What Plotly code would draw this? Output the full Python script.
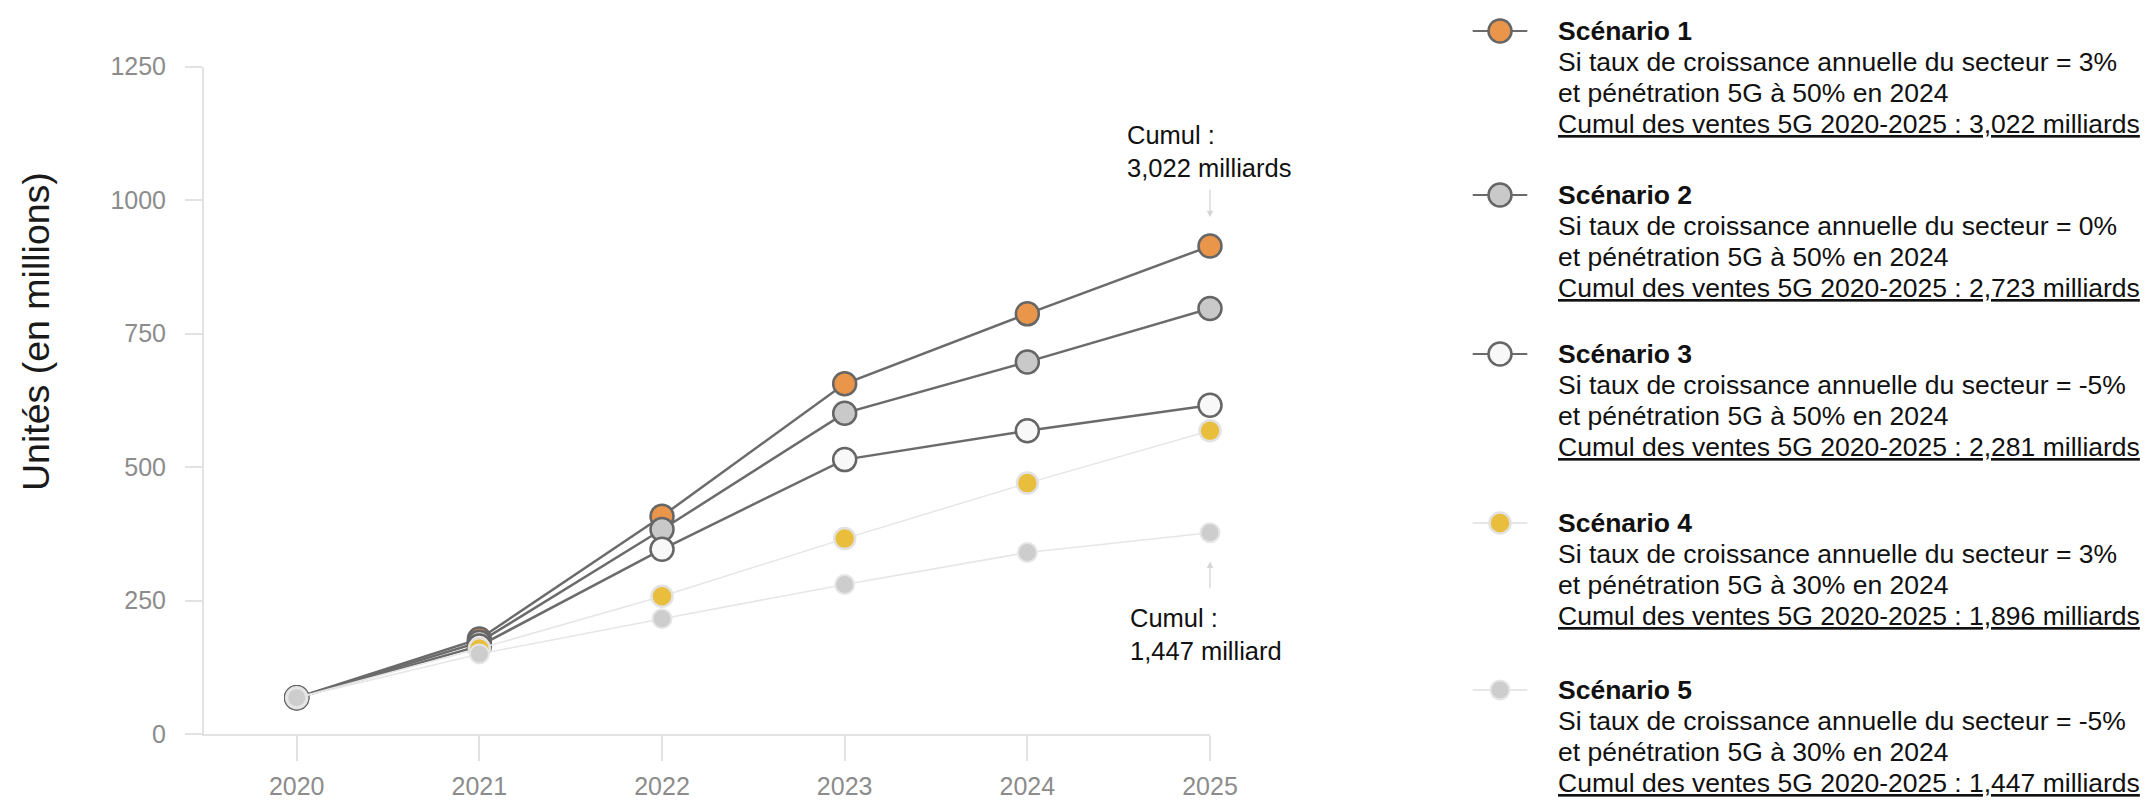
import plotly.graph_objects as go

# ---------------- data ----------------
years = [2020, 2021, 2022, 2023, 2024, 2025]
year_labels = ["2020", "2021", "2022", "2023", "2024", "2025"]
scenario_1 = [68, 178, 408, 656, 787, 914]
scenario_2 = [68, 172, 383, 601, 697, 797]
scenario_3 = [68, 165, 346, 514, 568, 616]
scenario_4 = [68, 160, 258, 366, 470, 568]
scenario_5 = [68, 150, 216, 280, 340, 377]
y_ticks = [0, 250, 500, 750, 1000, 1250]

scenario_names = ["Scénario 1", "Scénario 2", "Scénario 3", "Scénario 4", "Scénario 5"]
growth_rates = ["3%", "0%", "-5%", "3%", "-5%"]
penetrations = ["50%", "50%", "50%", "30%", "30%"]
cumul_totals = ["3,022", "2,723", "2,281", "1,896", "1,447"]

top_note = "Cumul :<br>3,022 milliards"
bottom_note = "Cumul :<br>1,447 milliard"
y_title = "Unités (en millions)"

# ---------------- styles ----------------
series = [scenario_1, scenario_2, scenario_3, scenario_4, scenario_5]
fills = ["#E9964B", "#C9C9C9", "#F8F8F8", "#E9BE3D", "#CDCDCD"]
borders = ["#666666", "#666666", "#666666", "#E2E2E2", "#E6E6E6"]
line_colors = ["#6B6B6B", "#6B6B6B", "#6B6B6B", "#E6E6E6", "#E6E6E6"]
line_widths = [2.5, 2.5, 2.5, 1.5, 1.5]
marker_sizes = [23, 23, 23, 21, 19]
marker_line_widths = [2.5, 2.5, 2.5, 2.5, 2]

FONT = "Arial, 'Liberation Sans', sans-serif"
W, H = 2156, 802

fig = go.Figure()

for i, vals in enumerate(series):
    fig.add_trace(go.Scatter(
        x=years, y=vals, mode="lines+markers", name=scenario_names[i],
        line=dict(color=line_colors[i], width=line_widths[i]),
        marker=dict(size=marker_sizes[i], color=fills[i],
                    line=dict(color=borders[i], width=marker_line_widths[i])),
        cliponaxis=False, showlegend=False, hoverinfo="x+y+name",
    ))

# ---------------- custom legend (pixel-space helper axes) ----------------
legend_marker_x = 1500
legend_text_x = 1556
legend_rows = [31, 195, 354, 523, 690]
line_gap = 31

for i in range(5):
    fig.add_trace(go.Scatter(
        x=[legend_marker_x], y=[legend_rows[i]], xaxis="x2", yaxis="y2",
        mode="markers", showlegend=False, hoverinfo="skip",
        marker=dict(symbol="line-ew", size=39,
                    line=dict(color=line_colors[i], width=2)),
    ))
    fig.add_trace(go.Scatter(
        x=[legend_marker_x], y=[legend_rows[i]], xaxis="x2", yaxis="y2",
        mode="markers", showlegend=False, hoverinfo="skip",
        marker=dict(size=marker_sizes[i], color=fills[i],
                    line=dict(color=borders[i], width=marker_line_widths[i])),
    ))

annotations = []
for i in range(5):
    lines = [
        "<b>" + scenario_names[i] + "</b>",
        "Si taux de croissance annuelle du secteur = " + growth_rates[i],
        "et pénétration 5G à " + penetrations[i] + " en 2024",
        "<u>Cumul des ventes 5G 2020-2025 : " + cumul_totals[i] + " milliards</u>",
    ]
    for k, t in enumerate(lines):
        annotations.append(dict(
            xref="x2", yref="y2", x=legend_text_x, y=legend_rows[i] + k * line_gap,
            text=t, showarrow=False, xanchor="left", yanchor="middle",
            font=dict(family=FONT, size=26.5, color="#111111"),
        ))

# cumulative notes with thin arrows
annotations += [
    dict(xref="paper", yref="paper", x=1125 / W, y=1 - 151 / H, text=top_note,
         showarrow=False, xanchor="left", yanchor="middle", align="left",
         font=dict(family=FONT, size=25.5, color="#111111")),
    dict(xref="paper", yref="paper", x=1128 / W, y=1 - 634 / H, text=bottom_note,
         showarrow=False, xanchor="left", yanchor="middle", align="left",
         font=dict(family=FONT, size=25.5, color="#111111")),
    dict(xref="x", yref="y", x=2025, y=968, axref="x", ayref="y", ax=2025, ay=1023,
         text="", showarrow=True, arrowhead=2, arrowsize=1, arrowwidth=1.3,
         arrowcolor="#D6D6D6", standoff=0, startstandoff=0),
    dict(xref="x", yref="y", x=2025, y=323, axref="x", ayref="y", ax=2025, ay=270,
         text="", showarrow=True, arrowhead=2, arrowsize=1, arrowwidth=1.3,
         arrowcolor="#D6D6D6", standoff=0, startstandoff=0),
    dict(xref="paper", yref="paper", x=36 / W, y=1 - 332 / H, text=y_title,
         textangle=-90, showarrow=False, xanchor="center", yanchor="middle",
         font=dict(family=FONT, size=37.5, color="#1A1A1A")),
]

axis_common = dict(showgrid=False, zeroline=False, showline=True,
                   linecolor="#E2E2E2", linewidth=2, ticks="outside",
                   tickcolor="#E2E2E2", tickwidth=1.5, fixedrange=True,
                   tickfont=dict(family=FONT, size=25, color="#8C8C8C"))

fig.update_layout(
    width=W, height=H, autosize=False,
    margin=dict(l=0, r=0, t=0, b=0, autoexpand=False),
    paper_bgcolor="white", plot_bgcolor="rgba(0,0,0,0)",
    font=dict(family=FONT),
    showlegend=False,
    xaxis=dict(domain=[204 / W, 1210 / W], range=[2019.4925, 2025],
               tickmode="array", tickvals=years, ticktext=year_labels,
               ticklen=25, ticklabelstandoff=4, anchor="y", **axis_common),
    yaxis=dict(domain=[68 / H, 735.3 / H], range=[0, 1250],
               tickmode="array", tickvals=y_ticks, ticklen=17,
               ticklabelstandoff=14, anchor="x", **axis_common),
    xaxis2=dict(domain=[0, 1], range=[0, W], visible=False, fixedrange=True,
                anchor="y2"),
    yaxis2=dict(domain=[0, 1], range=[H, 0], visible=False, fixedrange=True,
                anchor="x2"),
    annotations=annotations,
)

fig.write_html("out.html")
